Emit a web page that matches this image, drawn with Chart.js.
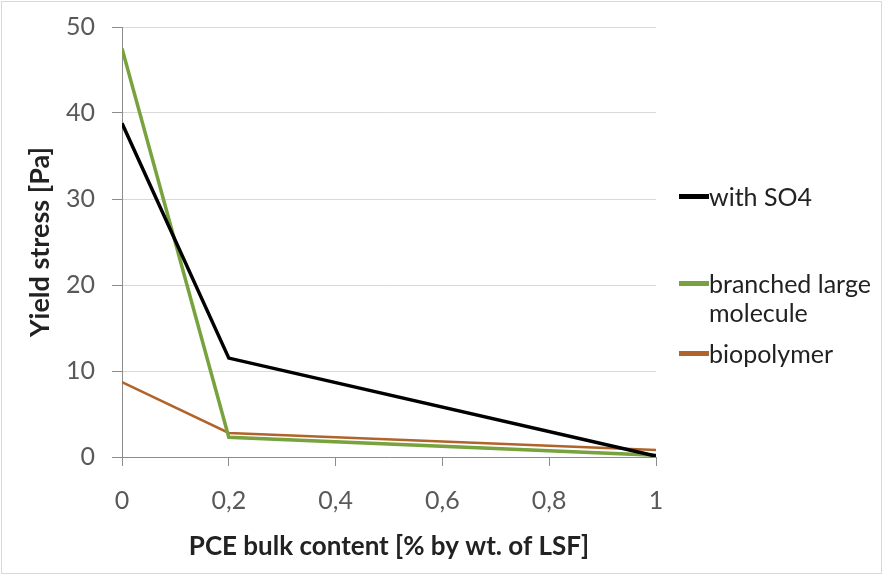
<!DOCTYPE html>
<html>
<head>
<meta charset="utf-8">
<script src="https://cdn.jsdelivr.net/npm/chart.js@4"></script>
<style>
  html, body { margin: 0; padding: 0; background: #fff; }
  #wrap { position: relative; width: 883px; height: 576px; }
  #frame { position: absolute; left: 1px; top: 1px; width: 879px; height: 571px; border: 1px solid #d9d9d9; pointer-events: none; }
  #legend { position: absolute; left: 679px; top: 0; font-family: Lato, "Open Sans", sans-serif; font-size: 25px; color: #222; }
  #legend .item { position: absolute; left: 0; width: 204px; display: flex; line-height: 29px; }
  #legend .swatch { display: inline-block; width: 30px; height: 5px; margin-top: 12px; flex: none; }
</style>
</head>
<body>
<div id="wrap">
  <canvas id="chart" width="883" height="576"></canvas>
  <div id="legend"></div>
  <div id="frame"></div>
</div>
<script>
// PCE bulk content, % by wt. of LSF
const dosage = [0, 0.2, 1];

const withSO4 = [38.8, 11.5, 0.1];
const branchedLarge = [47.5, 2.3, 0.2];
const biopolymer = [8.7, 2.8, 0.8];

const seriesNames = ['with SO4', 'branched large molecule', 'biopolymer'];
const seriesColors = ['#000000', '#77a23d', '#b0632a'];
const legendTops = [182, 269, 339];

const yTicks = [0, 10, 20, 30, 40, 50];

function toPoints(values) {
    return values.map((v, i) => ({ x: dosage[i], y: v }));
}

const fontFamily = 'Lato, "Open Sans", sans-serif';

const ctx = document.getElementById('chart');
const chart = new Chart(ctx, {
    type: 'scatter',
    data: {
        datasets: [withSO4, branchedLarge, biopolymer].map((vals, i) => ({
            label: seriesNames[i],
            data: toPoints(vals),
            showLine: true,
            borderColor: seriesColors[i],
            backgroundColor: seriesColors[i],
            borderWidth: i === 2 ? 2.5 : 3.5,
            pointRadius: 0,
            tension: 0
        }))
    },
    options: {
        responsive: false,
        animation: false,
        layout: { padding: { left: 20, top: 27, right: 227, bottom: 10 } },
        plugins: {
            legend: { display: false },
            tooltip: { enabled: false }
        },
        scales: {
            x: {
                type: 'linear',
                min: 0,
                max: 1,
                ticks: {
                    stepSize: 0.2,
                    color: '#595959',
                    font: { family: fontFamily, size: 25 },
                    padding: 20,
                    maxRotation: 0,
                    callback: v => String(Number(v.toFixed(1))).replace('.', ',')
                },
                grid: { drawOnChartArea: false, tickLength: 9, tickColor: '#8c8c8c' },
                border: { color: '#8c8c8c' },
                title: {
                    display: true,
                    text: 'PCE bulk content [% by wt. of LSF]',
                    color: '#222',
                    font: { family: fontFamily, size: 26, weight: 'bold' },
                    padding: { top: 4, bottom: 4 }
                },
                afterFit: scale => {
                    scale.height = 109;
                    scale.paddingLeft = 0;
                    scale.paddingRight = 0;
                }
            },
            y: {
                min: 0,
                max: 50,
                afterBuildTicks: scale => { scale.ticks = yTicks.map(v => ({ value: v })); },
                ticks: {
                    color: '#595959',
                    font: { family: fontFamily, size: 25 },
                    padding: 17
                },
                grid: { color: '#d9d9d9', tickLength: 10, tickColor: '#8c8c8c' },
                border: { color: '#8c8c8c' },
                title: {
                    display: true,
                    text: 'Yield stress [Pa]',
                    color: '#222',
                    font: { family: fontFamily, size: 27, weight: 'bold' }
                },
                afterFit: scale => {
                    scale.width = 102;
                    scale.paddingTop = 0;
                    scale.paddingBottom = 0;
                }
            }
        }
    }
});

// legend to the right of the plot, long names wrap onto a second line
const legendEl = document.getElementById('legend');
chart.data.datasets.forEach((ds, i) => {
    const item = document.createElement('div');
    item.className = 'item';
    item.style.top = legendTops[i] + 'px';
    const sw = document.createElement('span');
    sw.className = 'swatch';
    sw.style.background = ds.borderColor;
    const txt = document.createElement('span');
    txt.textContent = ds.label;
    item.appendChild(sw);
    item.appendChild(txt);
    legendEl.appendChild(item);
});
</script>
</body>
</html>
